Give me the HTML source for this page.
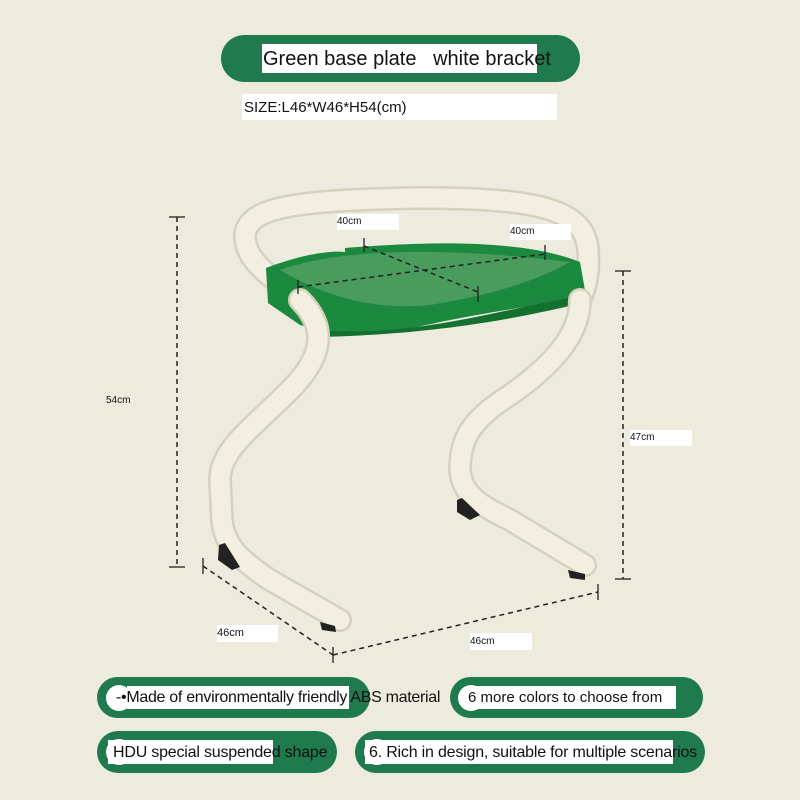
<!DOCTYPE html>
<html><head><meta charset="utf-8"><style>
body{margin:0;width:800px;height:800px;background:#ecebdd;font-family:"Liberation Sans",sans-serif;position:relative;overflow:hidden}
.a{position:absolute}
.pill{position:absolute;background:#1f7a4e;border-radius:24px}
.wb{position:absolute;background:#fff;color:#111;white-space:nowrap;overflow:visible}
.t{position:absolute;color:#111;white-space:nowrap}
</style></head><body>
<div class="pill" style="left:221px;top:35px;width:359px;height:47px"></div>
<div class="wb" style="left:262px;top:44px;width:275px;height:29px"></div>
<div class="t" style="left:263px;top:44px;font-size:20px;line-height:30px">Green base plate &nbsp; white bracket</div>
<div class="wb" style="left:242px;top:94px;width:315px;height:26px"></div>
<div class="t" style="left:244px;top:94px;font-size:15px;line-height:28px">SIZE:L46*W46*H54(cm)</div>

<svg class="a" style="left:0;top:0" width="800" height="800">
<g fill="none" stroke-linecap="round" stroke-linejoin="round">
 <path d="M300 300 C270 275 245 262 245 235 C248 208 290 200 420 198 C540 198 585 210 588 250 C590 275 585 290 580 300" stroke="#d6d1bc" stroke-width="24"/>
 <path d="M300 300 C270 275 245 262 245 235 C248 208 290 200 420 198 C540 198 585 210 588 250 C590 275 585 290 580 300" stroke="#f2efe0" stroke-width="19"/>
</g>
<path d="M266 268 C300 255 330 250 345 252 L345 248 C420 242 520 238 580 262 L586 296 C540 305 490 312 440 322 C390 334 340 336 300 325 L268 303 Z" fill="#1b8a3e"/>
<path d="M280 270 C330 252 420 244 570 262 C520 290 460 300 430 305 C380 310 330 300 280 270 Z" fill="#5ea36c" opacity="0.7"/>
<path d="M320 330 C380 335 440 325 500 312 L586 294 L586 302 C520 318 440 334 320 337 Z" fill="#14702f"/>
<g fill="none" stroke-linecap="round" stroke-linejoin="round">
 <path d="M300 300 C330 330 320 360 290 390 C250 430 220 450 220 480 L222 520 C224 545 240 560 270 580 L340 620" stroke="#d6d1bc" stroke-width="24"/>
 <path d="M300 300 C330 330 320 360 290 390 C250 430 220 450 220 480 L222 520 C224 545 240 560 270 580 L340 620" stroke="#f2efe0" stroke-width="19"/>
 <path d="M580 300 C580 330 560 360 510 395 C470 420 460 440 460 470 C462 495 480 505 510 520 L585 565" stroke="#d6d1bc" stroke-width="24"/>
 <path d="M580 300 C580 330 560 360 510 395 C470 420 460 440 460 470 C462 495 480 505 510 520 L585 565" stroke="#f2efe0" stroke-width="19"/>
</g>
<g fill="#222">
 <path d="M219 545 L225 543 L240 567 L232 570 L218 560Z"/>
 <path d="M320 622 L335 626 L336 632 L322 630Z"/>
 <path d="M457 500 L462 498 L480 515 L470 520 L457 512Z"/>
 <path d="M568 570 L585 574 L585 580 L570 578Z"/>
</g>
<g stroke="#222" stroke-width="1.5" fill="none" stroke-dasharray="5,4">
 <line x1="177" y1="217" x2="177" y2="567"/>
 <line x1="623" y1="271" x2="623" y2="579"/>
 <line x1="203" y1="566" x2="333" y2="655"/>
 <line x1="333" y1="655" x2="598" y2="592"/>
 <line x1="364" y1="246" x2="478" y2="292"/>
 <line x1="298" y1="287" x2="545" y2="254"/>
</g>
<g stroke="#222" stroke-width="1.3">
 <line x1="169" y1="217" x2="185" y2="217"/><line x1="169" y1="567" x2="185" y2="567"/>
 <line x1="615" y1="271" x2="631" y2="271"/><line x1="615" y1="579" x2="631" y2="579"/>
 <line x1="203" y1="558" x2="203" y2="574"/><line x1="333" y1="647" x2="333" y2="663"/>
 <line x1="598" y1="584" x2="598" y2="600"/>
 <line x1="364" y1="238" x2="364" y2="252"/><line x1="478" y1="286" x2="478" y2="302"/>
 <line x1="298" y1="280" x2="298" y2="294"/><line x1="545" y1="245" x2="545" y2="260"/>
</g>
</svg>

<div class="t" style="left:106px;top:393px;font-size:10px;line-height:16px">54cm</div>
<div class="wb" style="left:630px;top:430px;width:62px;height:16px;font-size:10px;line-height:16px">47cm</div>
<div class="wb" style="left:217px;top:625px;width:61px;height:17px;font-size:11px;line-height:17px">46cm</div>
<div class="wb" style="left:470px;top:633px;width:62px;height:17px;font-size:10px;line-height:17px">46cm</div>
<div class="wb" style="left:337px;top:214px;width:62px;height:16px;font-size:10px;line-height:16px">40cm</div>
<div class="wb" style="left:510px;top:224px;width:61px;height:16px;font-size:10px;line-height:16px">40cm</div>

<div class="pill" style="left:97px;top:677px;width:273px;height:41px;border-radius:21px"></div>
<div class="a" style="left:106px;top:685px;width:26px;height:26px;border-radius:13px;background:#fff"></div>
<div class="wb" style="left:127px;top:686px;width:222px;height:23px"></div>
<div class="t" style="left:116px;top:686px;font-size:16px;line-height:24px;letter-spacing:-0.3px">-•Made of environmentally friendly ABS material</div>

<div class="pill" style="left:450px;top:677px;width:253px;height:41px;border-radius:21px"></div>
<div class="a" style="left:458px;top:685px;width:26px;height:26px;border-radius:13px;background:#fff"></div>
<div class="wb" style="left:466px;top:686px;width:210px;height:23px"></div>
<div class="t" style="left:468px;top:686px;font-size:15px;line-height:24px">6 more colors to choose from</div>

<div class="pill" style="left:97px;top:731px;width:240px;height:42px;border-radius:21px"></div>
<div class="a" style="left:106px;top:739px;width:26px;height:26px;border-radius:13px;background:#fff"></div>
<div class="wb" style="left:108px;top:740px;width:165px;height:24px"></div>
<div class="t" style="left:113px;top:740px;font-size:16px;line-height:25px;letter-spacing:-0.2px">HDU special suspended shape</div>

<div class="pill" style="left:355px;top:731px;width:350px;height:42px;border-radius:21px"></div>
<div class="a" style="left:364px;top:739px;width:26px;height:26px;border-radius:13px;background:#fff"></div>
<div class="wb" style="left:365px;top:740px;width:308px;height:24px"></div>
<div class="t" style="left:369px;top:740px;font-size:16px;line-height:25px;letter-spacing:-0.2px">6. Rich in design, suitable for multiple scenarios</div>
</body></html>
